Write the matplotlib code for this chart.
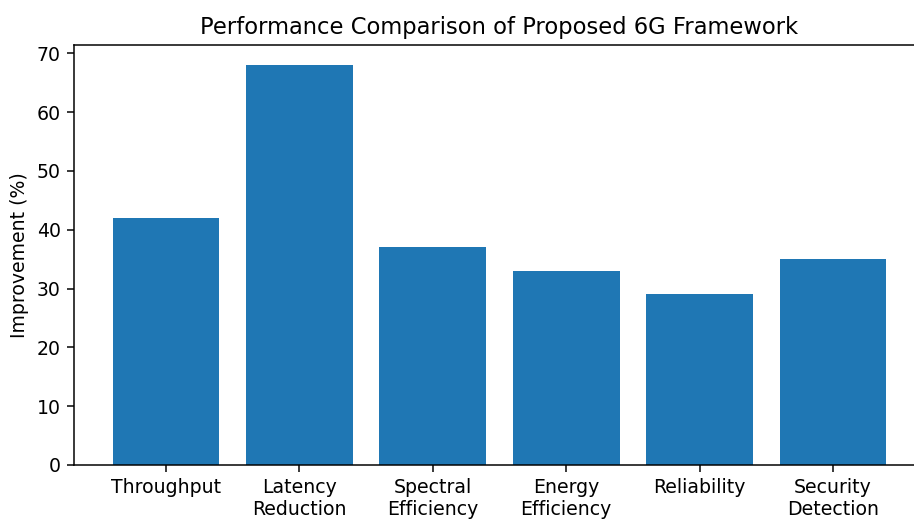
import matplotlib
matplotlib.use("Agg")
import matplotlib.pyplot as plt

categories = ["Throughput", "Latency\nReduction", "Spectral\nEfficiency",
              "Energy\nEfficiency", "Reliability", "Security\nDetection"]
improvement = [42, 68, 37, 33, 29, 35]

DPI = 136
fig = plt.figure(figsize=(914 / DPI, 520 / DPI), dpi=DPI)
ax = fig.add_axes([74 / 914, 1 - 465 / 520, (925 - 74) / 914, (465 - 45) / 520])
ax.bar(categories, improvement, color="#1f77b4")
ax.set_title("Performance Comparison of Proposed 6G Framework")
ax.set_ylabel("Improvement (%)")
fig.savefig("out.png", dpi=DPI)
